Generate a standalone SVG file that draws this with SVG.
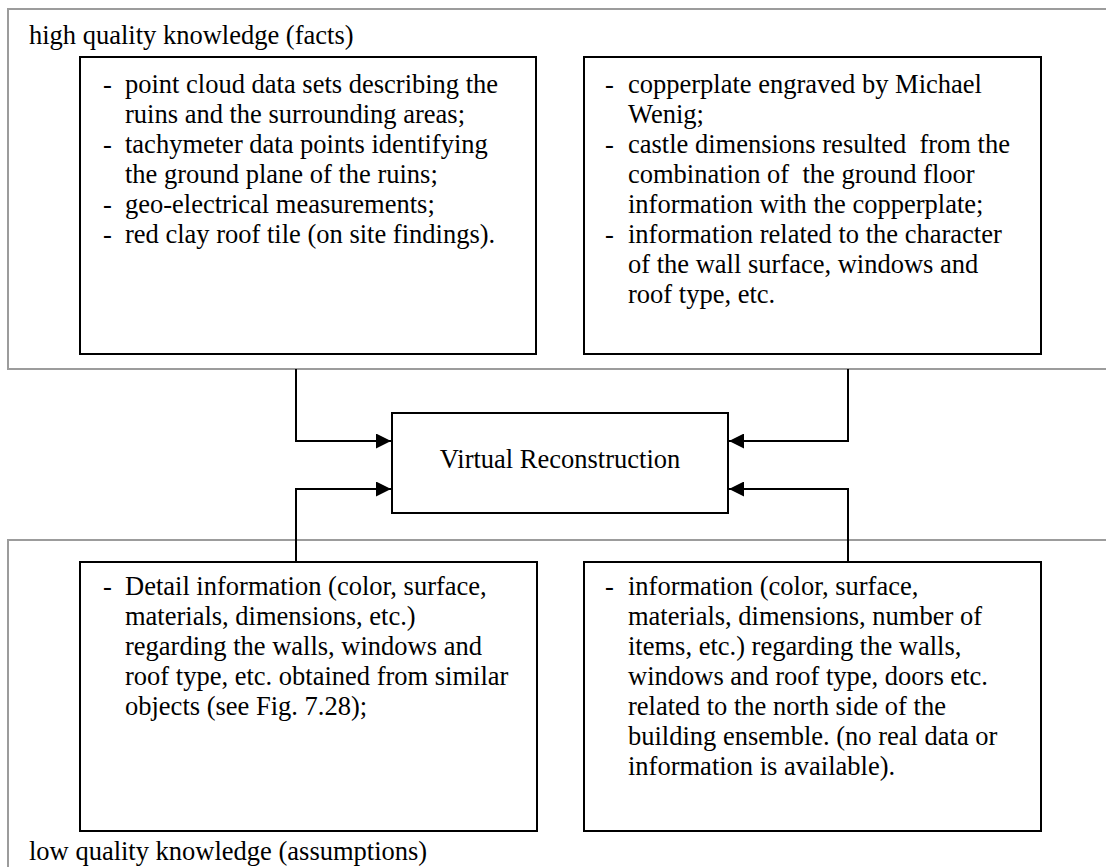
<svg xmlns="http://www.w3.org/2000/svg" width="1106" height="867" viewBox="0 0 1106 867">
<style>
.frame{fill:none;stroke:#9c9c9c;stroke-width:2}
.box{fill:#fff;stroke:#000;stroke-width:2}
.t{font-family:"Liberation Serif","Times New Roman",serif;font-size:26.5px;fill:#000}
.conn{fill:none;stroke:#000;stroke-width:2}
</style>
<defs>
<marker id="ah" markerWidth="15" markerHeight="15" refX="15" refY="7.5" orient="auto" markerUnits="userSpaceOnUse">
<path d="M0,0 L15,7.5 L0,15 Z" fill="#000"/>
</marker>
</defs>
<rect width="1106" height="867" fill="#fff"/>
<g id="frame-high">
<path class="frame" d="M1120,9 H8 V369 H1120"/>
<text class="t" x="29" y="44">high quality knowledge (facts)</text>
</g>
<g id="frame-low">
<path class="frame" d="M1120,540 H8 V880"/>
<text class="t" x="29" y="860">low quality knowledge (assumptions)</text>
</g>
<g id="connectors">
<path class="conn" d="M296,369 V441 H391" marker-end="url(#ah)"/>
<path class="conn" d="M296,562 V489 H391" marker-end="url(#ah)"/>
<path class="conn" d="M848,369 V441 H729" marker-end="url(#ah)"/>
<path class="conn" d="M848,562 V489 H729" marker-end="url(#ah)"/>
</g>
<g id="box-high-left">
<rect class="box" x="80" y="57" width="456" height="297"/>
<text class="t"><tspan x="103" y="93">-</tspan><tspan x="125" y="93">point cloud data sets describing the</tspan><tspan x="125" y="123">ruins and the surrounding areas;</tspan><tspan x="103" y="153">-</tspan><tspan x="125" y="153">tachymeter data points identifying</tspan><tspan x="125" y="183">the ground plane of the ruins;</tspan><tspan x="103" y="213">-</tspan><tspan x="125" y="213">geo-electrical measurements;</tspan><tspan x="103" y="243">-</tspan><tspan x="125" y="243">red clay roof tile (on site findings).</tspan></text>
</g>
<g id="box-high-right">
<rect class="box" x="584" y="57" width="457" height="297"/>
<text class="t"><tspan x="605" y="93">-</tspan><tspan x="628" y="93">copperplate engraved by Michael</tspan><tspan x="628" y="123">Wenig;</tspan><tspan x="605" y="153">-</tspan><tspan x="628" y="153" xml:space="preserve">castle dimensions resulted  from the</tspan><tspan x="628" y="183" xml:space="preserve">combination of  the ground floor</tspan><tspan x="628" y="213">information with the copperplate;</tspan><tspan x="605" y="243">-</tspan><tspan x="628" y="243">information related to the character</tspan><tspan x="628" y="273">of the wall surface, windows and</tspan><tspan x="628" y="303">roof type, etc.</tspan></text>
</g>
<g id="virtual-reconstruction">
<rect class="box" x="392" y="413" width="336" height="100"/>
<text class="t" x="560" y="468" text-anchor="middle">Virtual Reconstruction</text>
</g>
<g id="box-low-left">
<rect class="box" x="80" y="562" width="457" height="269"/>
<text class="t"><tspan x="103" y="595">-</tspan><tspan x="125" y="595">Detail information (color, surface,</tspan><tspan x="125" y="625">materials, dimensions, etc.)</tspan><tspan x="125" y="655">regarding the walls, windows and</tspan><tspan x="125" y="685">roof type, etc. obtained from similar</tspan><tspan x="125" y="715">objects (see Fig. 7.28);</tspan></text>
</g>
<g id="box-low-right">
<rect class="box" x="584" y="562" width="457" height="269"/>
<text class="t"><tspan x="605" y="595">-</tspan><tspan x="628" y="595">information (color, surface,</tspan><tspan x="628" y="625">materials, dimensions, number of</tspan><tspan x="628" y="655">items, etc.) regarding the walls,</tspan><tspan x="628" y="685">windows and roof type, doors etc.</tspan><tspan x="628" y="715">related to the north side of the</tspan><tspan x="628" y="745">building ensemble. (no real data or</tspan><tspan x="628" y="775">information is available).</tspan></text>
</g>
</svg>
